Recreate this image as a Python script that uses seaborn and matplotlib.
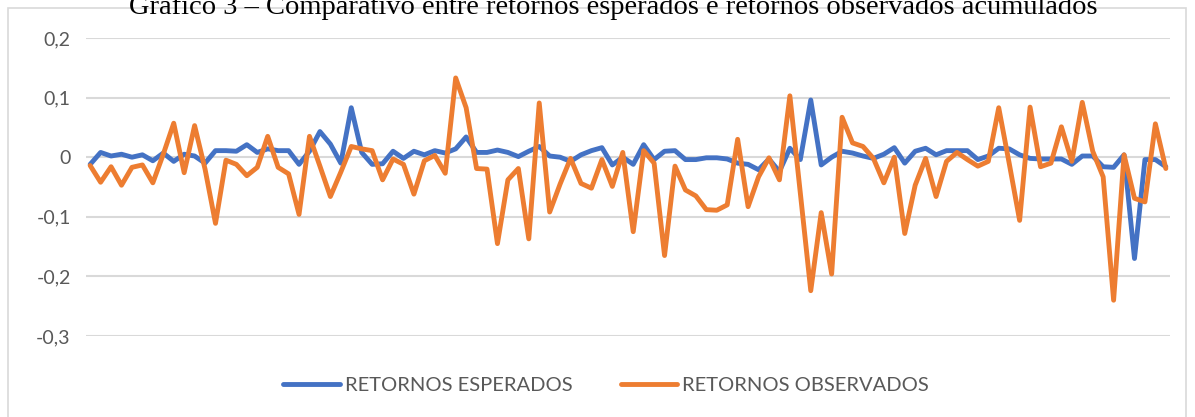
import numpy as np
import pandas as pd
import seaborn as sns
import matplotlib.pyplot as plt
from matplotlib.patches import Rectangle

# series (104 periods)
esperados = [
    -0.012, 0.008, 0.002, 0.005, 0.000, 0.004, -0.006, 0.007, -0.007, 0.005,
    0.002, -0.010, 0.011, 0.011, 0.010, 0.021, 0.008, 0.014, 0.011, 0.011,
    -0.012, 0.010, 0.043, 0.022, -0.010, 0.083, 0.008, -0.012, -0.011, 0.010,
    -0.002, 0.010, 0.004, 0.011, 0.007, 0.014, 0.034, 0.008, 0.008, 0.012,
    0.008, 0.001, 0.010, 0.018, 0.002, 0.000, -0.007, 0.004, 0.011, 0.016,
    -0.013, 0.000, -0.012, 0.021, -0.004, 0.010, 0.011, -0.004, -0.004, -0.001,
    -0.001, -0.003, -0.010, -0.012, -0.021, -0.003, -0.024, 0.015, -0.004, 0.096,
    -0.013, 0.000, 0.010, 0.007, 0.002, -0.002, 0.005, 0.016, -0.010, 0.010,
    0.015, 0.004, 0.011, 0.011, 0.011, -0.004, 0.002, 0.015, 0.014, 0.004,
    -0.002, -0.003, -0.003, -0.003, -0.012, 0.002, 0.002, -0.016, -0.017, 0.004,
    -0.170, -0.004, -0.004, -0.016,
]
observados = [
    -0.014, -0.042, -0.016, -0.047, -0.017, -0.013, -0.043, 0.005, 0.057, -0.026,
    0.053, -0.020, -0.111, -0.005, -0.012, -0.031, -0.017, 0.035, -0.017, -0.028,
    -0.096, 0.035, -0.015, -0.066, -0.025, 0.018, 0.014, 0.011, -0.038, -0.003,
    -0.012, -0.062, -0.006, 0.003, -0.027, 0.133, 0.083, -0.019, -0.020, -0.145,
    -0.038, -0.019, -0.137, 0.091, -0.092, -0.045, -0.002, -0.044, -0.052, -0.004,
    -0.049, 0.008, -0.125, 0.011, -0.010, -0.165, -0.015, -0.055, -0.065, -0.088,
    -0.089, -0.080, 0.030, -0.083, -0.033, -0.001, -0.038, 0.103, -0.060, -0.224,
    -0.093, -0.196, 0.067, 0.024, 0.018, -0.002, -0.043, 0.000, -0.128, -0.047,
    -0.002, -0.066, -0.007, 0.008, -0.004, -0.015, -0.007, 0.083, -0.010, -0.106,
    0.084, -0.016, -0.010, 0.051, -0.007, 0.092, 0.010, -0.033, -0.240, 0.004,
    -0.069, -0.075, 0.056, -0.019,
]
series_names = ["RETORNOS ESPERADOS", "RETORNOS OBSERVADOS"]
y_ticks = [0.2, 0.1, 0.0, -0.1, -0.2, -0.3]
y_labels = ["0,2", "0,1", "0", "-0,1", "-0,2", "-0,3"]
title = "Gráfico 3 – Comparativo entre retornos esperados e retornos observados acumulados"

periodo = np.arange(len(esperados))
df = pd.DataFrame({
    "periodo": np.concatenate([periodo, periodo]),
    "retorno": esperados + observados,
    "serie": [series_names[0]] * len(esperados) + [series_names[1]] * len(observados),
})

sns.set_style("white")
plt.rcParams["font.family"] = ["Lato", "DejaVu Sans"]

fig = plt.figure(figsize=(11.95, 4.17), dpi=100)
ax = fig.add_axes([86 / 1195, 1 - 336 / 417, (1170 - 86) / 1195, (336 - 38) / 417])

# chart frame (light grey border like the spreadsheet chart area)
fig.patches.append(Rectangle((8 / 1195, -0.05), (1186 - 8) / 1195, 1 - 8 / 417 + 0.05,
                             transform=fig.transFigure, fill=False,
                             edgecolor="#d9d9d9", linewidth=1.2))

sns.lineplot(data=df, x="periodo", y="retorno", hue="serie",
             palette=["#4472C4", "#ED7D31"], linewidth=3.5, ax=ax,
             legend=True)

ax.set_xlim(-0.4, len(esperados) - 0.6)
ax.set_ylim(-0.3, 0.2)
ax.set_yticks(y_ticks)
ax.set_yticklabels(y_labels, color="#595959", fontsize=14)
ax.tick_params(axis="y", length=0, pad=11)
ax.set_xticks([])
ax.set_xlabel("")
ax.set_ylabel("")
ax.grid(axis="y", color="#d9d9d9", linewidth=1.5)
ax.set_axisbelow(True)
for s in ax.spines.values():
    s.set_visible(False)

handles, labels = ax.get_legend_handles_labels()
ax.legend_.remove()
fig.legend(handles, labels, loc="center", bbox_to_anchor=(606 / 1195, 1 - 385 / 417),
           ncol=2, frameon=False, fontsize=14.5, labelcolor="#595959",
           handlelength=2.8, handletextpad=0.25, columnspacing=2.4)

fig.text(0.513, 1 - 14 / 417, title, ha="center", va="baseline",
         fontsize=20.5, family=["Liberation Serif"], color="black")

fig.savefig("out.png", dpi=100)
